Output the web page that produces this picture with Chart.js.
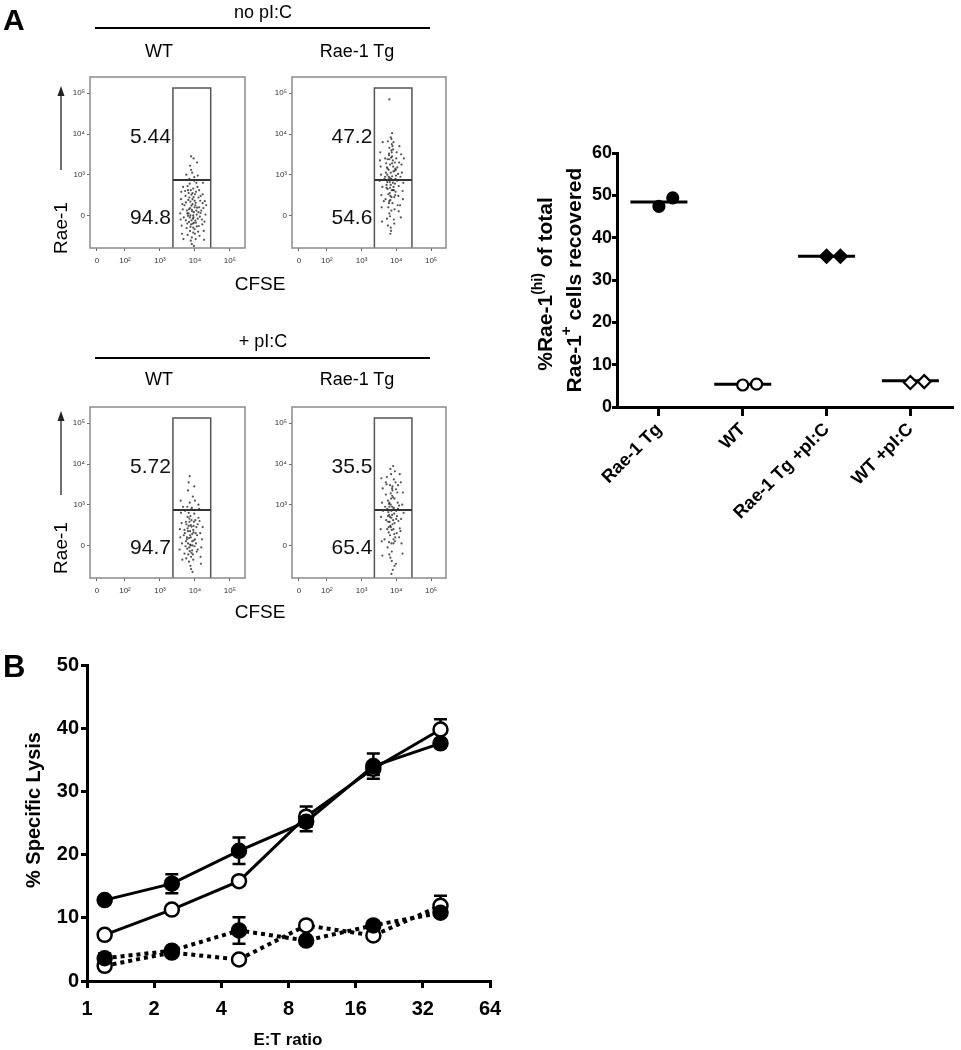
<!DOCTYPE html>
<html><head><meta charset="utf-8">
<script src="https://cdn.jsdelivr.net/npm/chart.js@4.4.1/dist/chart.umd.min.js"></script>
<style>
body{margin:0;background:#fff;}
#page{position:relative;width:961px;height:1050px;overflow:hidden;font-family:'Liberation Sans',Arial,Helvetica,sans-serif;color:#000;background:#fff;}
.t{position:absolute;white-space:nowrap;line-height:1;}
canvas{position:absolute;}
.rule{position:absolute;height:2px;background:#000;}
</style></head><body><div id="page">
<div class="rule" style="left:95px;top:27px;width:335px;"></div>
<div class="rule" style="left:95px;top:357px;width:335px;"></div>
<canvas id="f1" width="215" height="205" style="left:40px;top:70px"></canvas>
<canvas id="f2" width="214" height="205" style="left:242px;top:70px"></canvas>
<canvas id="f3" width="215" height="205" style="left:40px;top:400px"></canvas>
<canvas id="f4" width="214" height="205" style="left:242px;top:400px"></canvas>
<canvas id="dot" width="481" height="470" style="left:480px;top:130px"></canvas>
<canvas id="lys" width="540" height="410" style="left:0px;top:640px"></canvas>
<svg width="961" height="1050" style="position:absolute;left:0;top:0;pointer-events:none">
  <line x1="61" y1="170" x2="61" y2="94" stroke="#222" stroke-width="1.3"/>
  <polygon points="61,86 57.5,96 64.5,96" fill="#222"/>
  <line x1="61" y1="495" x2="61" y2="419" stroke="#222" stroke-width="1.3"/>
  <polygon points="61,411 57.5,421 64.5,421" fill="#222"/>
</svg>
</div>
<script>
// ---------------- DATA ----------------
// Flow cytometry axes (display units: biexponential decades)
const flowXTicks = [1.2, 2, 3, 4, 5];
const flowXLabels = ['0', '10²', '10³', '10⁴', '10⁵'];
const flowYTicks = [2, 3, 4, 5];
const flowYLabels = ['0', '10³', '10⁴', '10⁵'];
const gateX = [3.37, 4.45];
const gateTop = 5.13;
const gateSplit = 2.87;
const pctNoPicWT = ['5.44', '94.8'];
const pctNoPicTg = ['47.2', '54.6'];
const pctPicWT = ['5.72', '94.7'];
const pctPicTg = ['35.5', '65.4'];

// CFSE (x) vs Rae-1 (y) events
const cellsNoPicWT = [
[3.92,2.10],[3.85,1.95],[4.02,2.31],[3.78,2.05],[3.97,1.82],[4.10,2.44],[3.88,2.62],[3.95,1.70],[4.05,2.02],[3.81,2.38],
[3.99,2.20],[3.74,1.88],[4.14,1.97],[3.90,2.51],[3.86,1.62],[4.07,2.70],[3.93,2.28],[3.83,2.15],[4.00,1.55],[3.96,2.45],
[3.70,2.25],[4.18,2.12],[3.89,1.78],[4.03,2.58],[3.79,2.72],[3.94,1.92],[4.11,1.74],[3.87,2.34],[3.98,2.85],[3.76,1.69],
[4.06,2.19],[3.91,1.46],[3.84,2.90],[4.01,1.87],[3.95,2.66],[4.15,2.36],[3.80,1.99],[3.92,3.05],[4.09,1.60],[3.73,2.48],
[3.97,2.08],[3.88,1.38],[4.04,2.80],[3.82,2.55],[4.20,1.90],[3.90,2.24],[3.99,1.66],[3.77,2.12],[4.08,2.98],[3.94,1.80],
[3.86,3.22],[4.12,2.62],[3.68,1.95],[4.02,1.42],[3.93,2.40],[3.79,1.52],[4.16,2.06],[3.96,3.40],[3.85,2.78],[4.05,1.73],
[3.91,1.30],[3.72,2.60],[4.00,2.52],[3.87,2.00],[4.13,1.50],[3.98,2.94],[3.83,1.84],[4.22,2.30],[3.95,1.58],[3.89,3.12],
[3.58,2.05],[3.62,1.75],[3.60,2.40],[3.65,2.15],[3.63,1.55],[3.66,2.70],[3.59,1.90],[3.64,2.28],[3.67,1.42],[3.61,2.58],
[4.24,2.18],[4.27,1.85],[4.22,2.52],[4.30,2.02],[4.25,1.62],[4.28,2.35],[4.23,2.80],[4.26,1.40],[4.21,1.78],[4.32,2.25],
[3.86,2.18],[3.95,2.00],[4.04,2.12],[3.90,1.88],[3.99,2.36],[3.82,2.05],[4.08,1.92],[3.93,2.55],[3.87,1.72],[4.01,2.25],
[3.74,2.32],[4.16,2.48],[3.78,1.80],[4.12,2.20],[3.96,1.95],[3.84,2.44],[4.03,1.82],[3.91,2.14],[3.80,2.62],[4.10,2.08],
[3.89,3.45],[4.06,3.30],[3.75,3.00],[3.97,1.25]
];
const cellsNoPicTg = [
[3.85,2.90],[3.78,3.12],[3.92,2.70],[3.81,2.55],[3.96,3.30],[3.74,2.82],[3.88,3.45],[3.83,2.38],[3.99,2.98],[3.70,3.05],
[3.90,2.62],[3.86,3.60],[3.77,2.20],[4.02,2.85],[3.82,3.25],[3.94,2.45],[3.68,2.95],[3.87,3.75],[3.80,2.05],[3.97,3.15],
[3.84,2.75],[3.75,3.38],[4.05,3.02],[3.89,2.30],[3.79,3.52],[3.93,1.90],[3.72,2.68],[3.86,3.88],[3.98,2.58],[3.81,2.92],
[3.91,3.20],[3.76,1.75],[4.00,3.40],[3.83,2.48],[3.88,4.02],[3.73,3.18],[3.95,2.15],[3.80,3.66],[4.07,2.72],[3.85,1.62],
[3.78,2.88],[3.92,3.08],[3.69,2.40],[3.87,2.62],[4.01,3.55],[3.82,1.98],[3.90,3.35],[3.74,3.00],[3.96,2.78],[3.84,3.92],
[3.77,2.52],[4.04,2.25],[3.89,3.70],[3.81,2.82],[3.94,1.80],[3.71,3.28],[3.86,2.12],[3.99,3.12],[3.79,3.48],[3.88,2.96],
[3.83,1.55],[4.08,3.30],[3.75,2.65],[3.92,3.80],[3.80,2.35],[3.97,2.50],[3.85,3.42],[3.73,1.92],[3.91,2.86],[3.80,4.85],
[3.52,2.85],[3.55,3.20],[3.57,2.50],[3.54,3.55],[3.58,2.20],[3.56,3.00],[3.60,2.70],[3.53,3.35],[3.59,1.85],[3.61,3.80],
[4.12,2.95],[4.15,3.25],[4.18,2.60],[4.14,3.50],[4.20,2.80],[4.11,2.25],[4.16,3.05],[4.22,3.40],[4.13,1.95],[4.19,2.40],
[3.84,3.05],[3.90,2.80],[3.78,2.95],[3.95,3.10],[3.82,2.68],[3.88,3.28],[3.75,3.15],[3.93,2.62],[3.86,2.45],[3.80,3.38],
[3.98,2.90],[3.72,2.75],[4.03,3.18],[3.87,3.55],[3.79,2.30],[4.06,2.48],[3.91,3.62],[3.76,3.82],[4.09,3.70],[3.84,1.70],
[3.66,2.90],[3.68,3.40],[3.64,2.35],[4.07,2.10]
];
const cellsPicWT = [
[3.88,2.20],[3.80,2.05],[3.95,2.38],[3.76,2.52],[3.92,1.88],[3.84,2.66],[4.00,2.15],[3.71,2.30],[3.89,1.72],[3.97,2.58],
[3.82,2.80],[3.93,2.00],[3.78,1.92],[4.04,2.45],[3.86,2.35],[3.74,2.10],[3.91,2.92],[3.83,1.60],[3.99,1.98],[3.87,2.72],
[3.79,2.42],[4.06,2.25],[3.90,1.82],[3.72,2.85],[3.96,2.12],[3.85,3.05],[3.81,1.78],[4.01,2.62],[3.88,2.50],[3.75,1.68],
[3.94,3.20],[3.83,2.18],[4.08,1.90],[3.87,1.50],[3.78,2.95],[3.98,2.78],[3.86,2.02],[3.70,2.38],[3.92,2.28],[3.80,3.35],
[4.03,2.05],[3.89,1.42],[3.84,2.58],[3.95,1.65],[3.77,2.20],[4.10,2.68],[3.88,2.88],[3.82,3.55],[3.93,1.35],[3.73,1.98],
[3.90,2.46],[4.00,3.10],[3.85,1.86],[3.79,2.70],[3.96,2.32],
[3.58,2.20],[3.62,2.55],[3.56,1.90],[3.60,2.80],[3.64,1.65],[3.57,2.40],[3.63,2.05],[3.59,3.10],
[4.15,2.30],[4.18,1.95],[4.13,2.60],[4.20,2.15],[4.16,1.72],[4.22,2.45],[4.12,2.90],[4.17,1.55],
[3.86,2.25],[3.92,2.10],[3.80,2.35],[3.96,2.48],[3.84,1.95],[3.90,2.62],[3.77,2.15],[4.02,2.30],
[3.88,2.00],[3.74,2.58],[4.05,1.85],[3.82,2.48],[3.94,1.78],[3.68,2.25],[3.70,1.80],[4.08,2.52],
[3.85,3.70],[3.98,3.45],[3.66,2.95],[4.10,3.00]
];
const cellsPicTg = [
[3.88,2.75],[3.80,2.95],[3.95,2.55],[3.76,3.10],[3.92,2.40],[3.84,3.28],[4.00,2.85],[3.71,2.62],[3.89,3.45],[3.97,2.20],
[3.82,2.70],[3.93,3.62],[3.78,2.32],[4.04,3.05],[3.86,2.05],[3.74,2.90],[3.91,3.18],[3.83,2.48],[3.99,3.38],[3.87,1.85],
[3.79,3.02],[4.06,2.60],[3.90,2.88],[3.72,3.50],[3.96,2.10],[3.85,3.75],[3.81,2.58],[4.01,2.30],[3.88,3.22],[3.75,1.95],
[3.94,2.78],[3.83,3.88],[4.08,2.98],[3.87,1.62],[3.78,2.45],[3.98,3.55],[3.86,2.68],[3.70,3.25],[3.92,2.15],[3.80,1.78],
[4.03,3.30],[3.89,2.52],[3.84,3.00],[3.95,1.50],[3.77,2.82],[4.10,2.42],[3.88,3.40],[3.82,2.25],[3.93,2.92],[3.73,3.68],
[3.90,1.40],[4.00,2.65],[3.85,3.15],[3.79,2.08],[3.96,3.82],[3.87,2.38],[3.76,2.72],[4.05,3.48],[3.83,1.70],[3.91,3.95],
[3.56,2.70],[3.59,3.05],[3.55,2.40],[3.61,3.40],[3.58,2.10],[3.62,2.85],[3.57,3.65],[3.60,1.75],
[4.14,2.65],[4.17,3.00],[4.12,2.35],[4.19,3.30],[4.15,2.05],[4.21,2.80],[4.13,3.55],[4.18,1.80],
[3.86,2.85],[3.91,2.62],[3.80,3.05],[3.95,3.15],[3.84,2.45],[3.89,3.35],[3.77,2.58],[4.02,2.72],
[3.88,2.95],[3.74,2.40],[4.05,2.90],[3.82,3.48],[3.94,2.28],[3.68,2.95],[3.70,3.55],[4.08,2.20],
[3.86,1.30],[3.99,1.55],[3.66,2.15],[4.10,3.75],[3.92,2.05],[3.79,2.75]
];

// Dot plot: %Rae-1(hi) of total Rae-1+ cells
const dotCategories = ['Rae-1 Tg', 'WT', 'Rae-1 Tg +pI:C', 'WT +pI:C'];
const dotRep1 = [47.4, 5.2, 35.6, 5.8];
const dotRep2 = [49.4, 5.4, 35.6, 6.0];
const dotMean = [48.4, 5.4, 35.6, 6.2];

// Panel B: % specific lysis vs E:T ratio
const lysisX = [1.2, 2.4, 4.8, 9.6, 19.2, 38.4];
const lysisXTicks = [1, 2, 4, 8, 16, 32, 64];
const lysisFilledSolid = [12.8, 15.4, 20.6, 25.2, 34.0, 37.6];
const lysisFilledSolidErr = [0.5, 1.5, 2.1, 1.5, 2.0, 0.6];
const lysisOpenSolid = [7.3, 11.3, 15.8, 26.0, 33.6, 39.8];
const lysisOpenSolidErr = [0.4, 0.5, 0.6, 1.6, 1.0, 1.6];
const lysisFilledDotted = [3.6, 4.8, 8.0, 6.4, 8.8, 10.8];
const lysisFilledDottedErr = [0.8, 0.5, 2.1, 0.5, 0.6, 0.5];
const lysisOpenDotted = [2.4, 4.5, 3.4, 8.8, 7.2, 11.9];
const lysisOpenDottedErr = [0.5, 0.4, 0.4, 0.5, 0.5, 1.6];

// ---------------- PAGE TEXT ----------------
const page = document.getElementById('page');
function addText(html, x, y, size, o = {}) {
  const d = document.createElement('div');
  d.className = 't';
  d.innerHTML = html;
  d.style.fontSize = size + 'px';
  if (o.bold) d.style.fontWeight = 'bold';
  if (o.rot) {
    d.style.left = x + 'px'; d.style.top = y + 'px';
    d.style.transform = 'translate(-50%,-50%) rotate(-90deg)';
  } else {
    d.style.top = (y - 0.8465 * size) + 'px';
    d.style.left = x + 'px';
    if (o.align === 'center') d.style.transform = 'translateX(-50%)';
    else if (o.align === 'right') d.style.transform = 'translateX(-100%)';
  }
  page.appendChild(d);
}
addText('A', 3, 30, 30, {bold: true});
addText('B', 3, 677, 31, {bold: true});
addText('no pI:C', 263, 18, 18, {align: 'center'});
addText('+ pI:C', 263, 347, 18, {align: 'center'});
addText('WT', 159, 57, 18, {align: 'center'});
addText('Rae-1 Tg', 357, 57, 18, {align: 'center'});
addText('WT', 159, 385, 18, {align: 'center'});
addText('Rae-1 Tg', 357, 385, 18, {align: 'center'});
addText('CFSE', 260, 290, 19, {align: 'center'});
addText('CFSE', 260, 618, 19, {align: 'center'});
addText('Rae-1', 59.5, 228, 19, {rot: true});
addText('Rae-1', 60, 548, 19, {rot: true});
addText('%Rae-1<span style="font-size:14px;position:relative;top:-10px">(hi)</span> of total', 544, 284, 21, {rot: true, bold: true});
addText('Rae-1<span style="font-size:15px;position:relative;top:-10px">+</span> cells recovered', 573, 280, 21, {rot: true, bold: true});
addText('% Specific Lysis', 33, 810, 20, {rot: true, bold: true});
addText('E:T ratio', 288, 1045, 17, {align: 'center', bold: true});

// ---------------- CHARTS ----------------
Chart.defaults.font.family = "'Liberation Sans', Arial, Helvetica, sans-serif";
Chart.defaults.color = '#000';

const boxPlugin = {
  id: 'box',
  afterDatasetsDraw(c) {
    const a = c.chartArea, ctx = c.ctx;
    ctx.save();
    ctx.strokeStyle = '#8a8a8a'; ctx.lineWidth = 1.5;
    ctx.strokeRect(a.left, a.top, a.right - a.left, a.bottom - a.top);
    ctx.restore();
  }
};
function pctPlugin(pcts) {
  return {
    id: 'pct',
    afterDatasetsDraw(c) {
      const ctx = c.ctx, xs = c.scales.x, ys = c.scales.y;
      ctx.save();
      ctx.font = "21px 'Liberation Sans', Arial, sans-serif";
      ctx.fillStyle = '#111';
      ctx.textAlign = 'right'; ctx.textBaseline = 'middle';
      const x = xs.getPixelForValue(gateX[0]) - 2;
      ctx.fillText(pcts[0], x, ys.getPixelForValue(3.93));
      ctx.fillText(pcts[1], x, ys.getPixelForValue(1.94));
      ctx.restore();
    }
  };
}
const flowYMin = 1.2, flowYMax = 5.4;
function flowChart(id, cells, pcts) {
  new Chart(document.getElementById(id), {
    type: 'scatter',
    data: {datasets: [
      {data: [{x: gateX[0], y: gateSplit}, {x: gateX[1], y: gateSplit}], showLine: true, borderColor: '#333', borderWidth: 2, pointRadius: 0},
      {data: [{x: gateX[0], y: flowYMin}, {x: gateX[0], y: gateTop}, {x: gateX[1], y: gateTop}, {x: gateX[1], y: flowYMin}], showLine: true, borderColor: '#555', borderWidth: 1.5, pointRadius: 0},
      {data: cells.map(p => ({x: p[0], y: p[1]})), pointRadius: 1.1, pointBackgroundColor: 'rgba(25,25,25,0.75)', pointBorderWidth: 0}
    ]},
    options: {
      responsive: false, animation: false, events: [], devicePixelRatio: 1,
      layout: {padding: {left: 0, right: 10, top: 7, bottom: 0}},
      plugins: {legend: {display: false}, tooltip: {enabled: false}},
      scales: {
        x: {type: 'linear', min: 1.0, max: 5.43,
          afterFit: s => { s.height = 27; },
          afterBuildTicks: s => { s.ticks = flowXTicks.map(v => ({value: v})); },
          ticks: {callback: (v, i) => flowXLabels[i], font: {size: 8}, color: '#333', padding: 5, maxRotation: 0, autoSkip: false},
          grid: {drawOnChartArea: false, tickLength: 3, color: '#666'}, border: {display: false}},
        y: {type: 'linear', min: flowYMin, max: flowYMax,
          afterFit: s => { s.width = 50; },
          afterBuildTicks: s => { s.ticks = flowYTicks.map(v => ({value: v})); },
          ticks: {callback: (v, i) => flowYLabels[i], font: {size: 8}, color: '#333', padding: 2, autoSkip: false},
          grid: {drawOnChartArea: false, tickLength: 3, color: '#666'}, border: {display: false}}
      }
    },
    plugins: [boxPlugin, pctPlugin(pcts)]
  });
}
flowChart('f1', cellsNoPicWT, pctNoPicWT);
flowChart('f2', cellsNoPicTg, pctNoPicTg);
flowChart('f3', cellsPicWT, pctPicWT);
flowChart('f4', cellsPicTg, pctPicTg);

// Dot plot
const dotStyles = [
  {style: 'circle', fill: '#000', r: 5.5},
  {style: 'circle', fill: '#fff', r: 5.5},
  {style: 'rectRot', fill: '#000', r: 6.5},
  {style: 'rectRot', fill: '#fff', r: 6.5}
];
const dotDatasets = [];
dotCategories.forEach((c, i) => {
  const cat = i + 1;
  dotDatasets.push({data: [{x: cat - 0.34, y: dotMean[i]}, {x: cat + 0.34, y: dotMean[i]}], showLine: true, borderColor: '#000', borderWidth: 3, pointRadius: 0, order: 2});
  dotDatasets.push({data: [{x: cat, y: dotRep1[i]}, {x: cat + 0.165, y: dotRep2[i]}], pointStyle: dotStyles[i].style, pointRadius: dotStyles[i].r, pointBackgroundColor: dotStyles[i].fill, pointBorderColor: '#000', pointBorderWidth: 2.2, order: 1});
});
new Chart(document.getElementById('dot'), {
  type: 'scatter',
  data: {datasets: dotDatasets},
  options: {
    responsive: false, animation: false, events: [], devicePixelRatio: 1,
    layout: {padding: {left: 0, right: 3, top: 23, bottom: 0}},
    plugins: {legend: {display: false}, tooltip: {enabled: false}},
    scales: {
      x: {type: 'linear', min: 0.5, max: 4.5,
        afterFit: s => { s.height = 193; },
        afterBuildTicks: s => { s.ticks = [1, 2, 3, 4].map(v => ({value: v})); },
        ticks: {callback: (v, i) => dotCategories[i], minRotation: 45, maxRotation: 45, autoSkip: false, font: {size: 18, weight: 'bold'}, color: '#000', padding: 3},
        grid: {drawOnChartArea: false, tickLength: 9, lineWidth: 3, color: '#000'},
        border: {display: true, width: 3, color: '#000'}},
      y: {type: 'linear', min: 0, max: 60,
        afterFit: s => { s.width = 137; },
        ticks: {stepSize: 10, font: {size: 18, weight: 'bold'}, color: '#000', padding: 0},
        grid: {drawOnChartArea: false, tickLength: 5, lineWidth: 3, color: '#000'},
        border: {display: true, width: 3, color: '#000'}}
    }
  }
});

// Panel B
const lysisSeries = [
  {y: lysisFilledDotted, e: lysisFilledDottedErr, fill: '#000', dash: [4, 4]},
  {y: lysisFilledSolid, e: lysisFilledSolidErr, fill: '#000', dash: []},
  {y: lysisOpenDotted, e: lysisOpenDottedErr, fill: '#fff', dash: [4, 4]},
  {y: lysisOpenSolid, e: lysisOpenSolidErr, fill: '#fff', dash: []}
];
const errPlugin = {
  id: 'err',
  beforeDatasetsDraw(c) {
    const ctx = c.ctx, xs = c.scales.x, ys = c.scales.y;
    ctx.save();
    ctx.strokeStyle = '#000'; ctx.lineWidth = 2.5; ctx.setLineDash([]);
    lysisSeries.forEach(s => {
      s.y.forEach((v, i) => {
        const x = xs.getPixelForValue(lysisX[i]);
        const yt = ys.getPixelForValue(v + s.e[i]);
        const yb = ys.getPixelForValue(v - s.e[i]);
        ctx.beginPath();
        ctx.moveTo(x, yt); ctx.lineTo(x, yb);
        ctx.moveTo(x - 6.5, yt); ctx.lineTo(x + 6.5, yt);
        ctx.moveTo(x - 6.5, yb); ctx.lineTo(x + 6.5, yb);
        ctx.stroke();
      });
    });
    ctx.restore();
  }
};
new Chart(document.getElementById('lys'), {
  type: 'line',
  data: {datasets: lysisSeries.map(s => ({
    data: s.y.map((v, i) => ({x: lysisX[i], y: v})),
    borderColor: '#000', borderWidth: s.dash.length ? 4 : 3, borderDash: s.dash, borderCapStyle: 'butt',
    pointRadius: 7, pointBackgroundColor: s.fill, pointBorderColor: '#000', pointBorderWidth: 2.5,
    fill: false, tension: 0
  }))},
  options: {
    responsive: false, animation: false, events: [], devicePixelRatio: 1,
    layout: {padding: {left: 0, right: 50, top: 25, bottom: 0}},
    plugins: {legend: {display: false}, tooltip: {enabled: false}},
    scales: {
      x: {type: 'logarithmic', min: 1, max: 64,
        afterFit: s => { s.height = 69; },
        afterBuildTicks: s => { s.ticks = lysisXTicks.map(v => ({value: v})); },
        ticks: {callback: (v) => String(v), font: {size: 20, weight: 'bold'}, color: '#000', padding: 9, maxRotation: 0, autoSkip: false},
        grid: {drawOnChartArea: false, tickLength: 7, lineWidth: 3, color: '#000'},
        border: {display: true, width: 3, color: '#000'}},
      y: {type: 'linear', min: 0, max: 50,
        afterFit: s => { s.width = 87; },
        ticks: {stepSize: 10, font: {size: 20, weight: 'bold'}, color: '#000', padding: 2},
        grid: {drawOnChartArea: false, tickLength: 6, lineWidth: 3, color: '#000'},
        border: {display: true, width: 3, color: '#000'}}
    }
  },
  plugins: [errPlugin]
});
</script>
</body></html>
